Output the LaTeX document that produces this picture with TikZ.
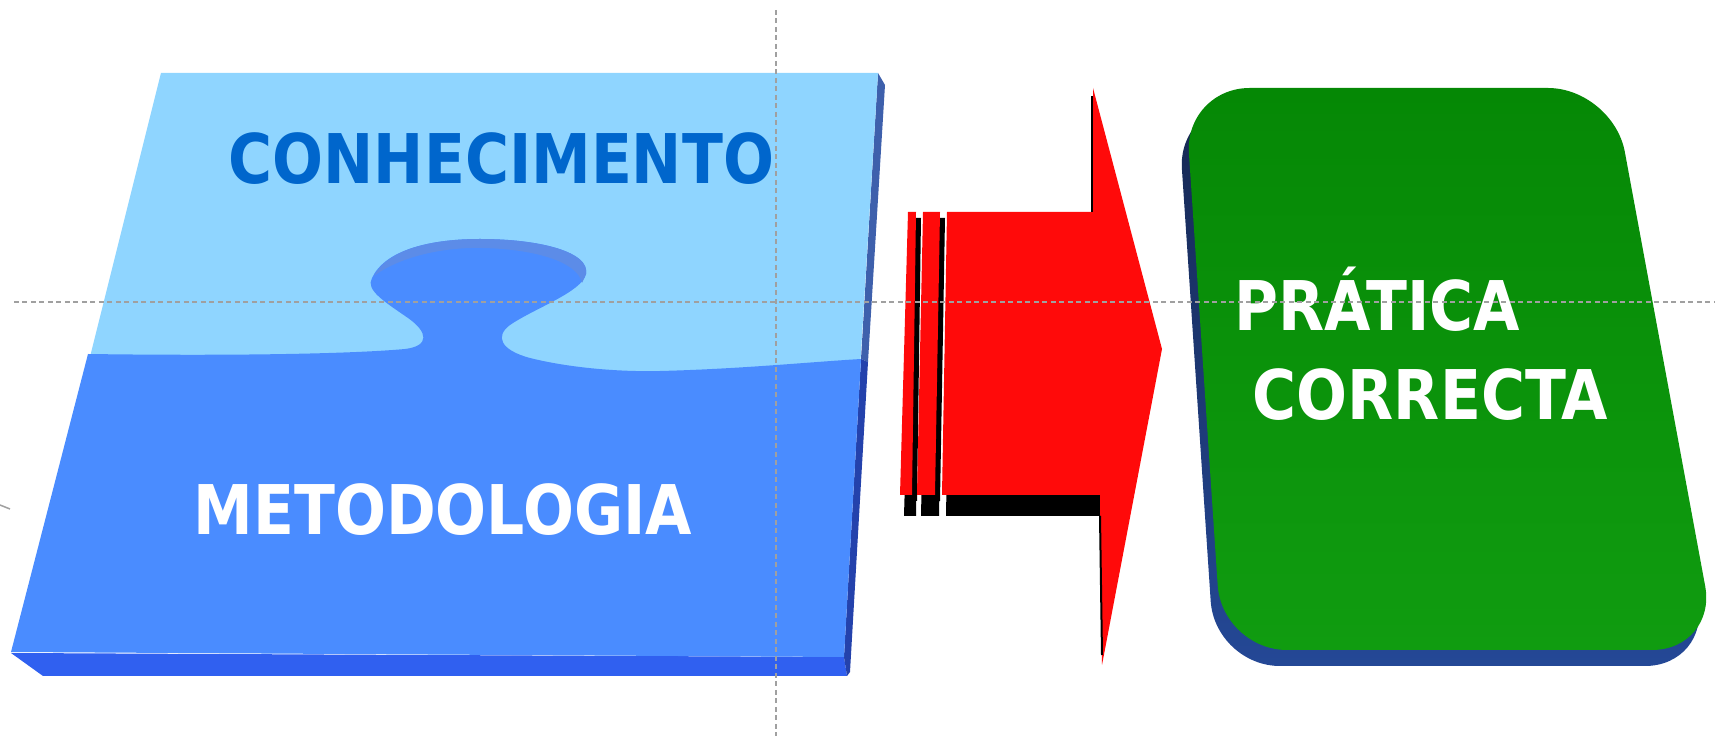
\documentclass[tikz,border=0pt]{standalone}
\usepackage{fontspec}
\usepackage{graphicx}
\setmainfont{DejaVu Sans}
\definecolor{pieceTop}{RGB}{143,213,255}
\definecolor{pieceLow}{RGB}{74,140,255}
\definecolor{pieceBottomSide}{RGB}{48,96,240}
\definecolor{pieceRightTop}{RGB}{62,96,172}
\definecolor{pieceRightLow}{RGB}{36,66,172}
\definecolor{knobRim}{RGB}{92,140,232}
\definecolor{titleBlue}{RGB}{0,102,204}
\definecolor{arrowRed}{RGB}{255,10,10}
\definecolor{boxGreenTop}{RGB}{5,136,5}
\definecolor{boxGreenBot}{RGB}{16,156,16}
\definecolor{boxShadeTop}{RGB}{22,40,82}
\definecolor{boxShadeBot}{RGB}{36,72,150}
\definecolor{guideGray}{RGB}{160,160,160}

% condensed bold lettering
\newcommand{\slabword}[1]{\scalebox{0.875}[1]{#1}}

\begin{document}
\begin{tikzpicture}[x=0.1mm,y=-0.1mm,
  wordstyle/.style={font=\bfseries\fontsize{19.5}{23}\selectfont, inner sep=0pt, anchor=base west},
  guideline/.style={draw=guideGray, line width=0.15mm, dash pattern=on 0.5mm off 0.35mm},
  boxshape/.style={rounded corners=6.5mm}]
\useasboundingbox (0,0) rectangle (1715,736);

% ---- puzzle slab: side faces ----
\fill[pieceBottomSide] (11,653) -- (844,657) -- (847,676) -- (43,676) -- cycle;
\fill[pieceRightTop] (878,73) -- (885,85) -- (868,362) -- (861,359) -- cycle;
\fill[pieceRightLow] (861,359) -- (868,362) -- (850,672) -- (847,676) -- (844,657) -- cycle;

% ---- upper piece ----
\fill[pieceTop] (161,73) -- (878,73) -- (859,385) -- (83,385) -- cycle;

% ---- lower piece with its knob ----
\fill[pieceLow] (88,354)
  .. controls (230,356) and (350,354) .. (405,349)
  .. controls (430,346) and (428,332) .. (408,318)
  .. controls (385,302) and (365,290) .. (372,278)
  .. controls (385,250) and (430,239) .. (480,239)
  .. controls (540,239) and (590,252) .. (586,274)
  .. controls (582,292) and (535,308) .. (510,325)
  .. controls (495,336) and (500,350) .. (530,358)
  .. controls (570,368) and (620,372) .. (660,371)
  .. controls (740,369) and (810,362) .. (861,359)
  -- (844,657) -- (11,652) -- cycle;

% wall of the socket above the knob
\fill[knobRim] (374,276)
  .. controls (387,250) and (430,239) .. (480,239)
  .. controls (540,239) and (590,252) .. (586,274)
  -- (582,283)
  .. controls (578,262) and (535,249) .. (482,248)
  .. controls (440,247) and (398,258) .. (374,276) -- cycle;

\node[wordstyle, text=titleBlue] (conhecimento) at (228,184) {\slabword{CONHECIMENTO}};
\node[wordstyle, text=white] (metodologia) at (193,535) {\slabword{METODOLOGIA}};

% ---- red arrow ----
\begin{scope}[shift={(4,21)}]
  \fill[black] (947,212) -- (1095,212) -- (1100,495) -- (942,495) -- cycle;
  \fill[black] (923,212) -- (940,212) -- (935,495) -- (917,495) -- cycle;
  \fill[black] (908,212) -- (916,212) -- (912,495) -- (900,495) -- cycle;
\end{scope}
\begin{scope}[shift={(5,6)}]
  \fill[black] (923,212) -- (940,212) -- (935,495) -- (917,495) -- cycle;
  \fill[black] (908,212) -- (916,212) -- (912,495) -- (900,495) -- cycle;
\end{scope}
\fill[arrowRed] (947,212) -- (1093,212) -- (1093,88) -- (1162,349)
  -- (1102,665) -- (1100,495) -- (942,495) -- cycle;
\fill[arrowRed] (923,212) -- (940,212) -- (935,495) -- (917,495) -- cycle;
\fill[arrowRed] (908,212) -- (916,212) -- (912,495) -- (900,495) -- cycle;
\draw[black, line width=0.2mm] (1092,96) -- (1092,212);
\draw[black, line width=0.2mm] (1100,516) -- (1102,655);

% ---- green card ----
\shade[boxshape, top color=boxShadeTop, bottom color=boxShadeBot, shift={(-7,16)}]
  (1184.6,88) -- (1613,88) -- (1717,650) -- (1222,650) -- cycle;
\shade[boxshape, top color=boxGreenTop, bottom color=boxGreenBot]
  (1184.6,88) -- (1613,88) -- (1717,650) -- (1222,650) -- cycle;

\node[wordstyle, text=white] (pratica) at (1234,331) {\slabword{PRÁTICA}};
\node[wordstyle, text=white] (correcta) at (1252,420) {\slabword{CORRECTA}};

% ---- layout guides ----
\draw[guideline] (14,302) -- (1715,302);
\draw[guideline] (776,10) -- (776,736);
\draw[guideGray, line width=0.15mm] (0,505) -- (10,509);
\end{tikzpicture}
\end{document}
